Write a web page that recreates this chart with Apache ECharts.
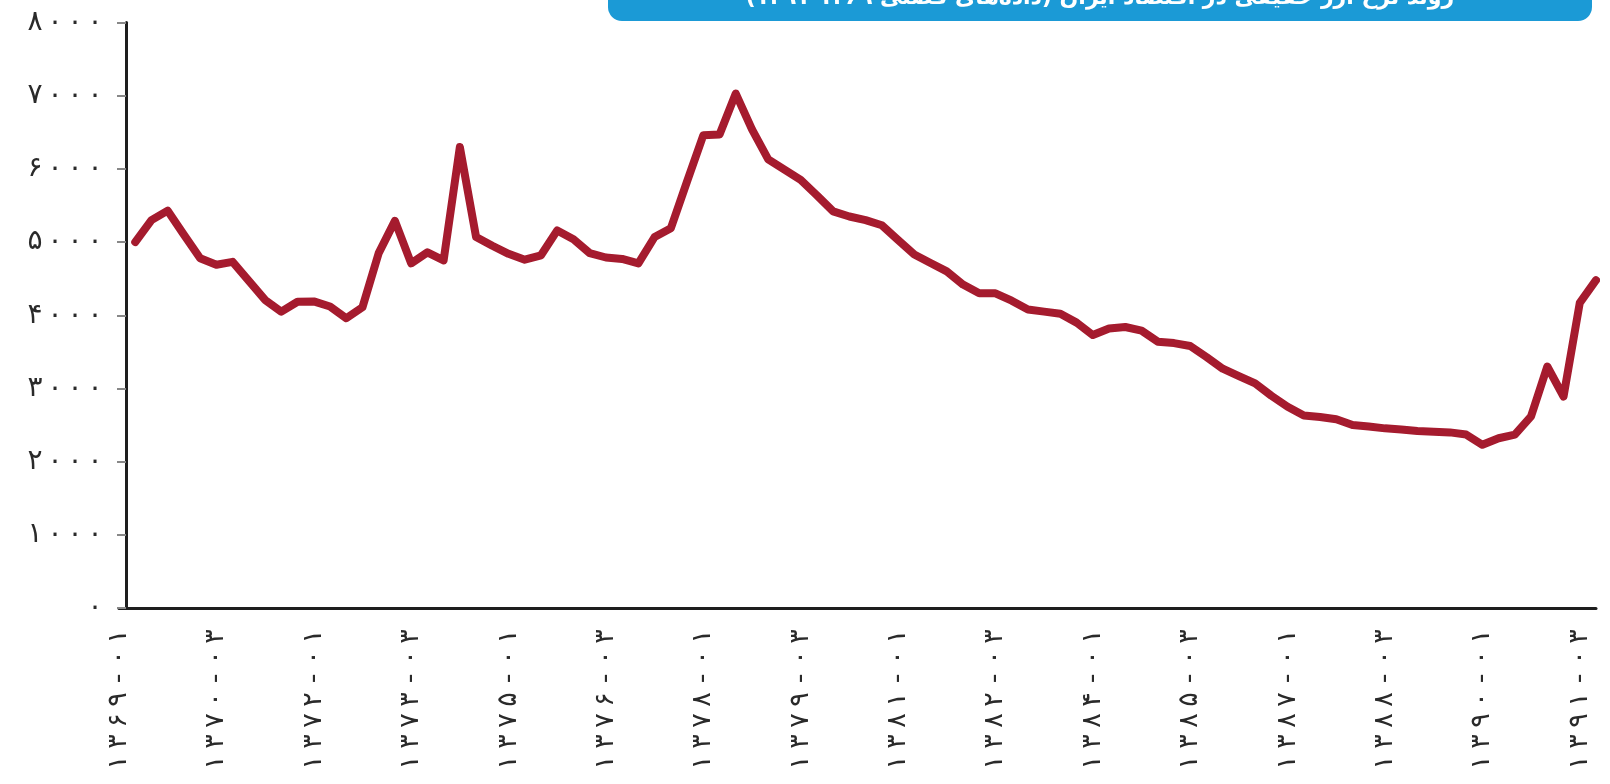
<!DOCTYPE html>
<html>
<head>
<meta charset="utf-8">
<script src="https://cdn.jsdelivr.net/npm/echarts@6/dist/echarts.min.js"></script>
<style>
  html, body { margin: 0; padding: 0; background: #fff; }
  #chart { width: 1610px; height: 784px; }
</style>
</head>
<body>
<div id="chart"></div>
<script>
// quarterly categories 1369-01 .. 1391-04
const years = ['۱۳۶۹', '۱۳۷۰', '۱۳۷۱', '۱۳۷۲', '۱۳۷۳', '۱۳۷۴', '۱۳۷۵', '۱۳۷۶', '۱۳۷۷', '۱۳۷۸', '۱۳۷۹', '۱۳۸۰',
  '۱۳۸۱', '۱۳۸۲', '۱۳۸۳', '۱۳۸۴', '۱۳۸۵', '۱۳۸۶', '۱۳۸۷', '۱۳۸۸', '۱۳۸۹', '۱۳۹۰', '۱۳۹۱']
const quarters = ['۰۱', '۰۲', '۰۳', '۰۴']

// values start at 1369-02
const rateValues = [
  5000, 5300, 5430, 5100, 4780, 4690, 4730, 4470, 4210, 4050,
  4185, 4190, 4120, 3960, 4110, 4850, 5290, 4710, 4860, 4750,
  6300, 5070, 4950, 4840, 4760, 4820, 5160, 5040, 4850, 4790,
  4770, 4710, 5070, 5190, 5830, 6460, 6470, 7030, 6540, 6130,
  5990, 5850, 5640, 5420, 5350, 5300, 5230, 5030, 4830, 4715,
  4600, 4420, 4300, 4300, 4200, 4080, 4050, 4020, 3900, 3730,
  3820, 3840, 3790, 3640, 3620, 3580, 3430, 3270, 3170, 3070,
  2900, 2750, 2630, 2610, 2580, 2500, 2480, 2455, 2440, 2420,
  2410, 2400, 2370, 2230, 2320, 2370, 2620, 3300, 2890, 4170,
  4480
]

const yTickLabels = ['۰', '۱۰۰۰', '۲۰۰۰', '۳۰۰۰', '۴۰۰۰', '۵۰۰۰', '۶۰۰۰', '۷۰۰۰', '۸۰۰۰']

const titleText = 'روند نرخ ارز حقیقی در اقتصاد ایران (داده‌های فصلی ۱۳۶۹-۱۳۹۱)'

let categories = []
years.forEach(function (y) {
  quarters.forEach(function (q) {
    categories.push(y + '-' + q)
  })
})
const seriesData = rateValues.map(function (v, i) {
  return [categories[i + 1], v]
})

// the source font sets digits wide apart, so each glyph gets its own cell
function spaced (str) {
  return str.split('').map(function (ch) {
    return '{c|' + ch + '}'
  }).join('')
}

const myChart = echarts.init(document.getElementById('chart'))
const option = {
  backgroundColor: '#fff',
  animation: false,
  title: {
    text: '{box|' + titleText + '}',
    left: 608,
    top: -24,
    padding: 0,
    textStyle: {
      rich: {
        box: {
          width: 984,
          height: 45,
          align: 'center',
          backgroundColor: '#1b9ad6',
          borderRadius: 14,
          color: '#fff',
          fontSize: 22,
          fontFamily: 'DejaVu Sans'
        }
      }
    }
  },
  grid: {
    left: 119,
    right: 14,
    top: 22.6,
    bottom: 176,
    containLabel: false,
    outerBoundsMode: 'none'
  },
  xAxis: {
    type: 'category',
    data: categories,
    boundaryGap: false,
    axisLine: {
      lineStyle: { color: '#1e1e1e', width: 3 }
    },
    axisTick: { show: false },
    axisLabel: {
      interval: 5,
      rotate: 90,
      margin: 18,
      formatter: function (v) {
        return spaced(v)
      },
      rich: {
        c: {
          width: 21,
          align: 'center',
          fontSize: 27,
          fontFamily: 'DejaVu Sans',
          color: '#2a2a2a'
        }
      }
    },
    splitLine: { show: false }
  },
  yAxis: {
    type: 'value',
    min: 0,
    max: 8000,
    interval: 1000,
    offset: -7,
    axisLine: {
      show: true,
      lineStyle: { color: '#1e1e1e', width: 3 }
    },
    axisTick: {
      show: true,
      length: 9,
      lineStyle: { color: '#888', width: 2 }
    },
    axisLabel: {
      margin: 21,
      formatter: function (v) {
        return spaced(yTickLabels[Math.round(v / 1000)])
      },
      rich: {
        c: {
          width: 20,
          align: 'center',
          fontSize: 28,
          fontFamily: 'DejaVu Sans',
          color: '#2a2a2a'
        }
      }
    },
    splitLine: { show: false }
  },
  series: [
    {
      type: 'line',
      data: seriesData,
      symbol: 'none',
      smooth: false,
      lineStyle: {
        color: '#a51b2e',
        width: 8,
        join: 'round',
        cap: 'round'
      }
    }
  ]
}
myChart.setOption(option)
</script>
</body>
</html>
